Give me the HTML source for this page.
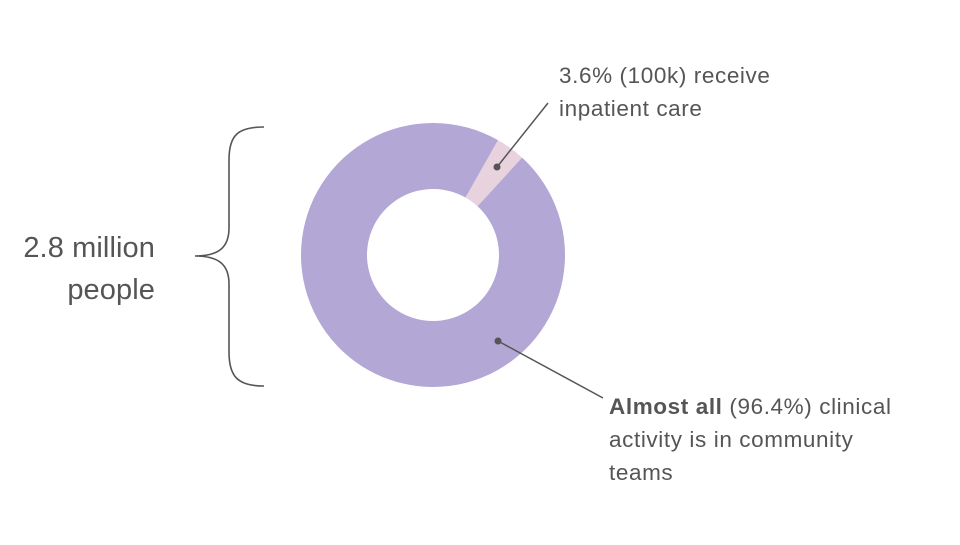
<!DOCTYPE html>
<html><head><meta charset="utf-8"><style>
body{margin:0;background:#fff;}
svg text{font-family:"Liberation Sans",sans-serif;fill:#555;}
.s{font-size:22.5px;letter-spacing:0.6px;}
.b{font-size:29px;letter-spacing:0.1px;}
</style></head><body>
<svg width="960" height="540" viewBox="0 0 960 540">
<g id="slices"></g>
<path d="M264,127 C238,127 229,135 229,160 L229,228 C229,248 218,256 195,256 C218,256 229,264 229,284 L229,352 C229,377 238,386 264,386" fill="none" stroke="#555" stroke-width="1.6"/>
<text class="b" x="155" y="257" text-anchor="end">2.8 million</text>
<text class="b" x="155" y="299" text-anchor="end">people</text>
<line x1="497" y1="167" x2="548" y2="103" stroke="#555" stroke-width="1.5"/>
<circle cx="497" cy="167" r="3.5" fill="#555"/>
<text class="s" x="559" y="83">3.6% (100k) receive</text>
<text class="s" x="559" y="116">inpatient care</text>
<line x1="498" y1="341" x2="603" y2="398" stroke="#555" stroke-width="1.5"/>
<circle cx="498" cy="341" r="3.5" fill="#555"/>
<text class="s" x="609" y="414"><tspan font-weight="bold">Almost all</tspan> (96.4%) clinical</text>
<text class="s" x="609" y="447">activity is in community</text>
<text class="s" x="609" y="480">teams</text>
</svg>
<script>
const categories=["Inpatient","Community"];
const values=[3.6,96.4];
const colors=["#e8d2dd","#b3a7d5"];
const cx=433,cy=255,R=132,r=66,startDeg=29.5;
const g=document.getElementById('slices');
const total=values.reduce((a,b)=>a+b,0);
let a=startDeg*Math.PI/180;
function pt(rad,ang){return [cx+rad*Math.sin(ang),cy-rad*Math.cos(ang)];}
values.forEach((v,i)=>{
  const span=v/total*2*Math.PI, b=a+span, large=span>Math.PI?1:0;
  const p1=pt(R,a),p2=pt(R,b),p3=pt(r,b),p4=pt(r,a);
  const p=document.createElementNS('http://www.w3.org/2000/svg','path');
  p.setAttribute('d',`M${p1} A${R},${R} 0 ${large} 1 ${p2} L${p3} A${r},${r} 0 ${large} 0 ${p4} Z`);
  p.setAttribute('fill',colors[i]);
  
  
  g.appendChild(p);
  a=b;
});
</script>
</body></html>
